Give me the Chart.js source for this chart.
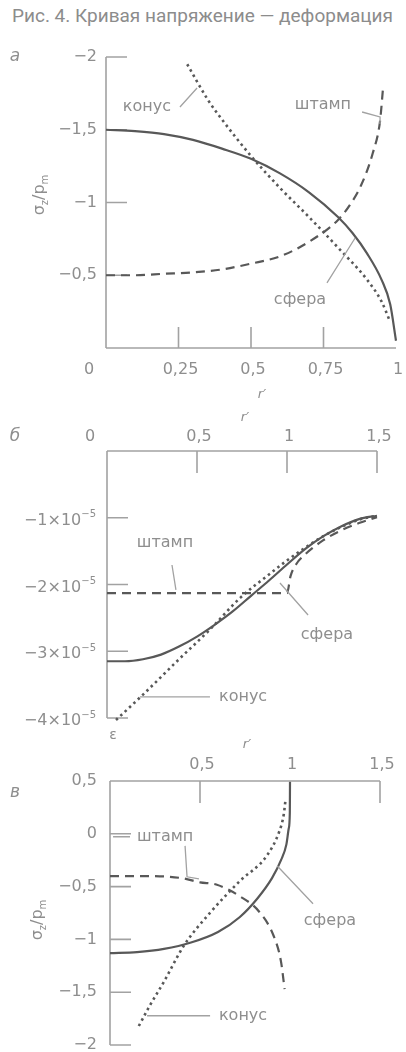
<!DOCTYPE html>
<html lang="ru">
<head>
<meta charset="utf-8">
<script src="https://cdn.jsdelivr.net/npm/chart.js@4"></script>
<style>
  html, body { margin: 0; padding: 0; background: #fff; }
  body { width: 406px; height: 1052px; position: relative; overflow: hidden; }
  #title { position: absolute; left: 12px; top: 4px; font: 19px Roboto, sans-serif; color: #8c8c8c; white-space: nowrap; }
  canvas { position: absolute; left: 0; top: 0; }
</style>
</head>
<body>
<div id="title">Рис. 4. Кривая напряжение — деформация</div>
<canvas id="chartA" width="406" height="1052"></canvas>
<canvas id="chartB" width="406" height="1052"></canvas>
<canvas id="chartC" width="406" height="1052"></canvas>
<script>
// а: contact pressure σz/pm against r'
const aTicksX = [0, 0.25, 0.5, 0.75, 1];
const aMarksX = [0.25, 0.5, 0.75];
const aTicksY = [-2, -1.5, -1, -0.5];
const aSphereR = [0, 0.1, 0.2, 0.3, 0.4, 0.5, 0.6, 0.7, 0.8, 0.85, 0.9, 0.95, 0.98, 1];
const aSphereS = [-1.5, -1.49, -1.47, -1.43, -1.37, -1.3, -1.2, -1.07, -0.9, -0.79, -0.65, -0.47, -0.3, -0.05];
const aConeR = [0.28, 0.35, 0.4, 0.5, 0.6, 0.7, 0.8, 0.9, 0.95, 0.98];
const aConeS = [-1.95, -1.71, -1.57, -1.32, -1.1, -0.9, -0.69, -0.47, -0.32, -0.18];
const aPunchR = [0, 0.1, 0.2, 0.3, 0.4, 0.5, 0.6, 0.7, 0.8, 0.84, 0.88, 0.92, 0.945, 0.955];
const aPunchS = [-0.5, -0.5, -0.51, -0.52, -0.54, -0.58, -0.63, -0.73, -0.88, -0.98, -1.12, -1.34, -1.56, -1.78];

// б: surface strain ε against r'
const bTicksX = [0, 0.5, 1, 1.5];
const bMarksX = [0.5, 1, 1.5];
const bTicksY = [-1e-5, -2e-5, -3e-5, -4e-5];
const bSphereR = [0, 0.1, 0.2, 0.3, 0.4, 0.5, 0.6, 0.7, 0.8, 0.9, 1.0, 1.1, 1.2, 1.3, 1.4, 1.5];
const bSphereE = [-3.15e-5, -3.15e-5, -3.12e-5, -3.05e-5, -2.93e-5, -2.78e-5, -2.6e-5, -2.4e-5, -2.17e-5, -1.94e-5, -1.7e-5, -1.47e-5, -1.28e-5, -1.13e-5, -1.02e-5, -0.97e-5];
const bConeR = [0.05, 0.2, 0.4, 0.57, 0.74, 0.9, 1.0, 1.1, 1.2, 1.3, 1.4, 1.5];
const bConeE = [-4.03e-5, -3.65e-5, -3.12e-5, -2.68e-5, -2.2e-5, -1.85e-5, -1.64e-5, -1.45e-5, -1.28e-5, -1.14e-5, -1.03e-5, -0.97e-5];
const bPunchR = [0, 0.3, 0.6, 0.9, 1.0, 1.02, 1.05, 1.1, 1.2, 1.3, 1.4, 1.5];
const bPunchE = [-2.13e-5, -2.13e-5, -2.13e-5, -2.13e-5, -2.13e-5, -1.87e-5, -1.7e-5, -1.55e-5, -1.34e-5, -1.19e-5, -1.08e-5, -0.99e-5];

// в: σz/pm against r'
const cTicksX = [0.5, 1, 1.5];
const cTicksY = [0.5, 0, -0.5, -1, -1.5, -2];
const cMarksY = [0, -0.5, -1, -1.5, -2];
const cSphereR = [0, 0.15, 0.3, 0.45, 0.6, 0.72, 0.82, 0.9, 0.95, 0.98, 0.993, 0.999, 1];
const cSphereS = [-1.13, -1.12, -1.09, -1.03, -0.93, -0.79, -0.61, -0.42, -0.25, -0.1, 0.05, 0.2, 0.49];
const cConeR = [0.16, 0.22, 0.3, 0.41, 0.56, 0.72, 0.87, 0.94, 0.965, 0.975];
const cConeS = [-1.82, -1.63, -1.4, -1.06, -0.74, -0.45, -0.21, 0.02, 0.18, 0.32];
const cPunchR = [0, 0.2, 0.4, 0.5, 0.59, 0.72, 0.83, 0.91, 0.95, 0.97];
const cPunchS = [-0.4, -0.4, -0.42, -0.46, -0.48, -0.59, -0.74, -0.97, -1.21, -1.47];

const INK = '#585858';
const AXIS = '#a2a2a2';
const TEXT = '#8e8e8e';
const FONT = '"DejaVu Sans", sans-serif';

function pts(xs, ys) { return xs.map((v, i) => ({ x: v, y: ys[i] })); }
function fmt(v) { return (v < 0 ? '−' : '') + String(Math.abs(v)).replace('.', ','); }

// text with sub/superscript parts
function rich(ctx, parts, x, y, align, size) {
  const w = parts.map(p => {
    ctx.font = ((p.sub || p.sup) ? Math.round(size * 0.62) : size) + 'px ' + FONT;
    return ctx.measureText(p.t).width;
  });
  const total = w.reduce((s, v) => s + v, 0);
  let cx = align === 'right' ? x - total : align === 'center' ? x - total / 2 : x;
  ctx.textAlign = 'left';
  ctx.textBaseline = 'middle';
  parts.forEach((p, i) => {
    ctx.font = ((p.sub || p.sup) ? Math.round(size * 0.62) : size) + 'px ' + FONT;
    const dy = p.sub ? size * 0.32 : p.sup ? -size * 0.38 : 0;
    ctx.fillText(p.t, cx, y + dy);
    cx += w[i];
  });
}

const sigma = [{ t: 'σ' }, { t: 'z', sub: true }, { t: '/p' }, { t: 'm', sub: true }];

function decor(p) {
  return {
    id: 'decor',
    beforeDatasetsDraw(chart) {
      const { ctx, chartArea: a, scales: { x, y } } = chart;
      const axisY = p.xTop ? a.top : a.bottom;
      ctx.save();
      ctx.strokeStyle = AXIS;
      ctx.lineWidth = 1.6;
      ctx.beginPath();
      ctx.moveTo(a.left, a.top); ctx.lineTo(a.left, a.bottom);
      ctx.moveTo(a.left, axisY); ctx.lineTo(a.right, axisY);
      p.yMarks.forEach(v => {
        const py = y.getPixelForValue(v);
        ctx.moveTo(a.left, py); ctx.lineTo(a.left + 21, py);
      });
      p.xMarks.forEach(v => {
        const px = x.getPixelForValue(v);
        ctx.moveTo(px, axisY); ctx.lineTo(px, axisY + (p.xTop ? 22 : -21));
      });
      ctx.stroke();
      ctx.restore();
    },
    afterDatasetsDraw(chart) {
      const { ctx, chartArea: a, scales: { x, y } } = chart;
      const P = (r, v) => [x.getPixelForValue(r), y.getPixelForValue(v)];
      const axisY = p.xTop ? a.top : a.bottom;
      ctx.save();
      ctx.fillStyle = TEXT;
      ctx.strokeStyle = AXIS;
      ctx.lineWidth = 1.3;

      // tick labels
      ctx.font = '16px ' + FONT;
      ctx.textAlign = 'center';
      ctx.textBaseline = 'middle';
      p.xTicks.forEach(v => {
        const px = x.getPixelForValue(v) + (v === 0 ? -17 : 2);
        ctx.fillText(fmt(v), px, axisY + p.xLabelDy);
      });
      p.yTicks.forEach(v => {
        const py = y.getPixelForValue(v) + (p.yLabelDy || 0);
        rich(ctx, p.yFmt(v), a.left - p.yLabelDx, py, 'right', 16);
      });

      // leader lines
      ctx.beginPath();
      p.leaders.forEach(line => {
        line.forEach((q, i) => {
          const [px, py] = P(q[0], q[1]);
          if (i === 0) ctx.moveTo(px, py); else ctx.lineTo(px, py);
        });
      });
      ctx.stroke();

      // curve names
      ctx.font = '16px ' + FONT;
      ctx.textAlign = 'center';
      p.notes.forEach(n => {
        const [px, py] = P(n.r, n.v);
        ctx.fillText(n.t, px, py);
      });

      // panel letter
      ctx.font = 'italic 17px ' + FONT;
      ctx.fillText(p.letter, 15, p.letterY);

      // r' axis title
      ctx.font = 'italic 13px ' + FONT;
      ctx.fillText('r′', p.rTitle[0], p.rTitle[1]);

      if (p.eps) {
        ctx.font = '14px ' + FONT;
        ctx.fillText('ε', p.eps[0], p.eps[1]);
      }
      if (p.yTitle) {
        ctx.translate(p.yTitle[0], p.yTitle[1]);
        ctx.rotate(-Math.PI / 2);
        rich(ctx, sigma, 0, 0, 'center', 16);
      }
      ctx.restore();
    }
  };
}

function sets(sR, sV, cR, cV, pR, pV) {
  return [
    { data: pts(sR, sV), borderColor: INK, borderWidth: 2.2 },
    { data: pts(cR, cV), borderColor: INK, borderWidth: 2.6, borderDash: [2.5, 3.5] },
    { data: pts(pR, pV), borderColor: INK, borderWidth: 2.2, borderDash: [9, 6] }
  ].map(d => Object.assign(d, { showLine: true, pointRadius: 0, clip: false, cubicInterpolationMode: 'monotone' }));
}

function panel(id, cfg, datasets, p) {
  new Chart(document.getElementById(id), {
    type: 'scatter',
    data: { datasets },
    options: {
      responsive: false,
      animation: false,
      events: [],
      layout: { padding: cfg.pad },
      plugins: { legend: { display: false }, tooltip: { enabled: false } },
      scales: {
        x: { type: 'linear', min: cfg.x[0], max: cfg.x[1], display: false },
        y: { type: 'linear', min: cfg.y[0], max: cfg.y[1], reverse: !!cfg.rev, display: false }
      }
    },
    plugins: [decor(p)]
  });
}

panel('chartA',
  { pad: { left: 106, right: 10, top: 57, bottom: 704 }, x: [0, 1], y: [-2, 0], rev: true },
  sets(aSphereR, aSphereS, aConeR, aConeS, aPunchR, aPunchS),
  {
    xTop: false, xTicks: aTicksX, xMarks: aMarksX, xLabelDy: 22,
    yTicks: aTicksY, yMarks: aTicksY, yLabelDx: 9, yFmt: v => [{ t: fmt(v) }],
    notes: [
      { t: 'конус', r: 0.141, v: -1.656 },
      { t: 'штамп', r: 0.748, v: -1.67 },
      { t: 'сфера', r: 0.669, v: -0.33 }
    ],
    leaders: [
      [[0.255, -1.656], [0.314, -1.787]],
      [[0.883, -1.622], [0.945, -1.588], [0.945, -1.54]],
      [[0.762, -0.447], [0.859, -0.756]]
    ],
    letter: 'а', letterY: 57, rTitle: [262, 395], yTitle: [40, 195]
  });

panel('chartB',
  { pad: { left: 107, right: 29, top: 451, bottom: 334 }, x: [0, 1.5], y: [-4e-5, 0] },
  sets(bSphereR, bSphereE, bConeR, bConeE, bPunchR, bPunchE),
  {
    xTop: true, xTicks: bTicksX, xMarks: bMarksX, xLabelDy: -14,
    yTicks: bTicksY, yMarks: bTicksY, yLabelDx: 11, yLabelDy: 3,
    yFmt: v => [{ t: fmt(Math.round(v * 1e5)) + '×10' }, { t: '−5', sup: true }],
    notes: [
      { t: 'штамп', r: 0.322, v: -1.378e-5 },
      { t: 'сфера', r: 1.222, v: -2.757e-5 },
      { t: 'конус', r: 0.756, v: -3.685e-5 }
    ],
    leaders: [
      [[0.361, -1.708e-5], [0.383, -2.08e-5]],
      [[0.961, -1.978e-5], [1.117, -2.457e-5]],
      [[0.183, -3.685e-5], [0.572, -3.685e-5]]
    ],
    letter: 'б', letterY: 437, rTitle: [245, 418], eps: [113, 735]
  });

panel('chartC',
  { pad: { left: 110, right: 26, top: 781, bottom: 7 }, x: [0, 1.5], y: [-2, 0.5] },
  sets(cSphereR, cSphereS, cConeR, cConeS, cPunchR, cPunchS),
  {
    xTop: true, xTicks: cTicksX, xMarks: cTicksX, xLabelDy: -16,
    yTicks: cTicksY, yMarks: cMarksY, yLabelDx: 13, yFmt: v => [{ t: fmt(v) }],
    notes: [
      { t: 'штамп', r: 0.306, v: -0.028 },
      { t: 'сфера', r: 1.222, v: -0.824 },
      { t: 'конус', r: 0.739, v: -1.723 }
    ],
    leaders: [
      [[0.017, -0.028], [0.111, -0.028]],
      [[0.417, -0.114], [0.428, -0.407], [0.494, -0.426]],
      [[0.928, -0.303], [1.128, -0.663]],
      [[0.206, -1.723], [0.556, -1.723]]
    ],
    letter: 'в', letterY: 793, rTitle: [247, 745], yTitle: [38, 920]
  });
</script>
</body>
</html>
